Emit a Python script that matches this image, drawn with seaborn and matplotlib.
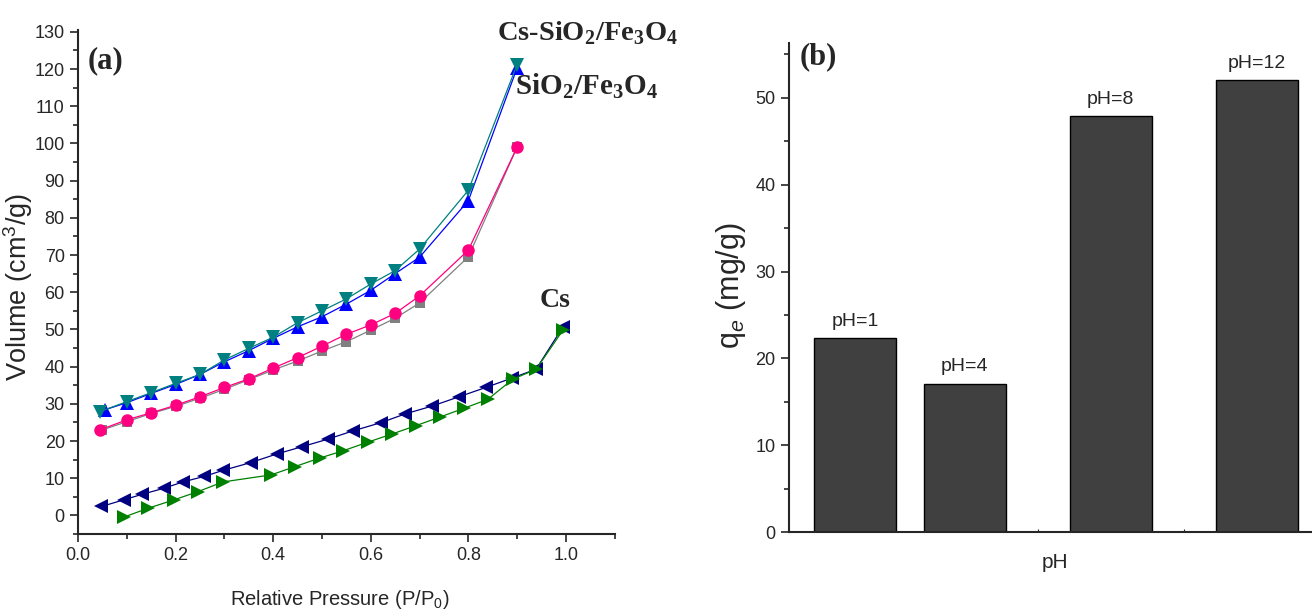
import matplotlib
matplotlib.use("Agg")
import matplotlib.pyplot as plt
import seaborn as sns
from matplotlib import font_manager
from matplotlib.ticker import MultipleLocator, NullLocator

# ---- (a) nitrogen isotherms ----
# Cs-SiO2/Fe3O4 (two branches)
cs_sio2_up_x = [0.055, 0.1, 0.15, 0.2, 0.25, 0.3, 0.35, 0.4, 0.45, 0.5, 0.55, 0.6, 0.65, 0.7, 0.8, 0.9]
cs_sio2_up_y = [28.4, 30.3, 32.8, 35.2, 37.9, 41.3, 44.3, 47.6, 50.7, 53.4, 56.8, 60.5, 65.0, 69.4, 84.6, 120.3]
cs_sio2_down_x = [0.045, 0.1, 0.15, 0.2, 0.25, 0.3, 0.35, 0.4, 0.45, 0.5, 0.55, 0.6, 0.65, 0.7, 0.8, 0.9]
cs_sio2_down_y = [27.9, 30.6, 33.0, 35.5, 37.9, 41.8, 44.9, 47.9, 51.8, 55.0, 58.2, 62.2, 65.8, 71.6, 87.4, 121.2]

# SiO2/Fe3O4 (two branches)
sio2_sq_x = [0.05, 0.1, 0.15, 0.2, 0.25, 0.3, 0.35, 0.4, 0.45, 0.5, 0.55, 0.6, 0.65, 0.7, 0.8, 0.9]
sio2_sq_y = [23.0, 25.2, 27.4, 29.3, 31.5, 33.9, 36.5, 39.1, 41.5, 44.2, 46.7, 49.8, 53.0, 57.1, 69.5, 99.0]
sio2_circ_x = [0.045, 0.1, 0.15, 0.2, 0.25, 0.3, 0.35, 0.4, 0.45, 0.5, 0.55, 0.6, 0.65, 0.7, 0.8, 0.9]
sio2_circ_y = [23.0, 25.7, 27.6, 29.6, 31.9, 34.4, 36.7, 39.6, 42.4, 45.5, 48.7, 51.2, 54.3, 59.0, 71.3, 99.0]

# Cs (adsorption / desorption)
cs_ads_x = [0.095, 0.143, 0.197, 0.246, 0.297, 0.396, 0.444, 0.495, 0.544, 0.594, 0.644, 0.692,
            0.741, 0.791, 0.840, 0.891, 0.939, 0.994]
cs_ads_y = [-0.4, 1.9, 4.2, 6.4, 9.0, 10.9, 13.1, 15.4, 17.4, 19.7, 21.9, 24.1,
            26.4, 28.8, 31.2, 36.6, 39.3, 49.8]
cs_des_x = [0.048, 0.094, 0.132, 0.176, 0.215, 0.259, 0.297, 0.354, 0.407, 0.460, 0.512, 0.563,
            0.620, 0.671, 0.726, 0.781, 0.836, 0.889, 0.939, 0.994]
cs_des_y = [2.4, 4.2, 5.7, 7.3, 9.0, 10.5, 12.1, 14.2, 16.5, 18.5, 20.5, 22.7,
            24.9, 27.3, 29.4, 31.9, 34.4, 36.9, 39.3, 50.7]

# ---- (b) effect of pH ----
ph_values = [1, 4, 8, 12]
qe_values = [22.3, 17.1, 47.9, 52.0]
ph_labels = ["pH=1", "pH=4", "pH=8", "pH=12"]

sns.set_style("ticks")
installed = {f.name for f in font_manager.fontManager.ttflist}
sans = "Liberation Sans Narrow" if "Liberation Sans Narrow" in installed else "Liberation Sans"
serif = "Liberation Serif"
plt.rcParams["font.family"] = [sans, "DejaVu Sans"]
plt.rcParams["mathtext.fontset"] = "custom"
plt.rcParams["mathtext.rm"] = sans
plt.rcParams["mathtext.it"] = sans + ":italic"
plt.rcParams["mathtext.bf"] = serif + ":bold"

fig = plt.figure(figsize=(13.12, 6.11), dpi=100)
ax_a = fig.add_axes([0.0595, 0.126, 0.409, 0.825])
ax_b = fig.add_axes([0.601, 0.1288, 0.3986, 0.801])

line_kw = dict(ax=ax_a, sort=False, linewidth=0.9, markeredgewidth=0)

sns.lineplot(x=sio2_sq_x, y=sio2_sq_y, color="#808080", marker="s", markersize=7.5, **line_kw)
sns.lineplot(x=sio2_circ_x, y=sio2_circ_y, color="#FF0080", marker="o", markersize=9, **line_kw)
sns.lineplot(x=cs_sio2_up_x, y=cs_sio2_up_y, color="#0000FF", marker="^", markersize=10, **line_kw)
sns.lineplot(x=cs_sio2_down_x, y=cs_sio2_down_y, color="#008080", marker="v", markersize=10, **line_kw)
sns.lineplot(x=cs_des_x, y=cs_des_y, color="#000080", marker="<", markersize=10, **line_kw)
sns.lineplot(x=cs_ads_x, y=cs_ads_y, color="#008000", marker=">", markersize=10, **line_kw)

ax_a.set_xlim(0, 1.1)
ax_a.set_ylim(-5, 130.5)
ax_a.xaxis.set_minor_locator(MultipleLocator(0.1))
ax_a.yaxis.set_major_locator(MultipleLocator(10))
ax_a.yaxis.set_minor_locator(MultipleLocator(5))
ax_a.set_xticks([0.0, 0.2, 0.4, 0.6, 0.8, 1.0])
ax_a.set_xticklabels(["0.0", "0.2", "0.4", "0.6", "0.8", "1.0"])
ax_a.tick_params(which="major", direction="out", length=6, width=1.2, labelsize=13)
ax_a.tick_params(which="minor", direction="out", length=3.5, width=1.2)
ax_a.set_xlabel("Relative Pressure (P/P$_0$)", fontsize=14.5)
ax_a.set_ylabel("Volume (cm$^3$/g)", fontsize=19.5)
ax_a.xaxis.set_label_coords(0.488, -0.107)
ax_a.yaxis.set_label_coords(-0.08, 0.49)

ax_a.text(0.02, 122.2, "(a)", family=serif, fontweight="bold", fontsize=22, ha="left", va="center")
ax_a.text(0.859, 129.5, "Cs-SiO$_\\mathbf{2}$/Fe$_\\mathbf{3}$O$_\\mathbf{4}$", family=serif,
          fontweight="bold", fontsize=20.5, ha="left", va="center", clip_on=False)
ax_a.text(0.896, 115.5, "SiO$_\\mathbf{2}$/Fe$_\\mathbf{3}$O$_\\mathbf{4}$", family=serif,
          fontweight="bold", fontsize=21, ha="left", va="center", clip_on=False)
ax_a.text(0.947, 57.9, "Cs", family=serif, fontweight="bold", fontsize=20, ha="left", va="center")

sns.despine(ax=ax_a)

# bars on a numeric pH axis
sns.barplot(x=ph_values, y=qe_values, native_scale=True, color="#404040", saturation=1,
            edgecolor="black", linewidth=1, width=0.75, ax=ax_b)
for ph, qe, lab in zip(ph_values, qe_values, ph_labels):
    ax_b.annotate(lab, (ph, qe), xytext=(0, 6), textcoords="offset points",
                  ha="center", va="bottom", fontsize=14)

ax_b.set_xlim(-0.83, 13.5)
ax_b.set_ylim(0, 56.3)
ax_b.xaxis.set_major_locator(NullLocator())
ax_b.xaxis.set_minor_locator(MultipleLocator(1))
ax_b.yaxis.set_major_locator(MultipleLocator(10))
ax_b.yaxis.set_minor_locator(MultipleLocator(5))
ax_b.tick_params(axis="y", which="major", direction="out", length=6, width=1.2, labelsize=13)
ax_b.tick_params(axis="y", which="minor", direction="out", length=3.5, width=1.2)
ax_b.tick_params(axis="x", which="minor", direction="in", length=2.5, width=0.8)
ax_b.set_xlabel("pH", fontsize=15)
ax_b.set_ylabel("q$_e$ (mg/g)", fontsize=22)
ax_b.xaxis.set_label_coords(0.509, -0.042)
ax_b.yaxis.set_label_coords(-0.078, 0.505)
ax_b.text(-0.52, 54.7, "(b)", family=serif, fontweight="bold", fontsize=22, ha="left", va="center")

sns.despine(ax=ax_b)
for ax in (ax_a, ax_b):
    for side in ("left", "bottom"):
        ax.spines[side].set_linewidth(1.5)

fig.savefig("out.png", dpi=100)
